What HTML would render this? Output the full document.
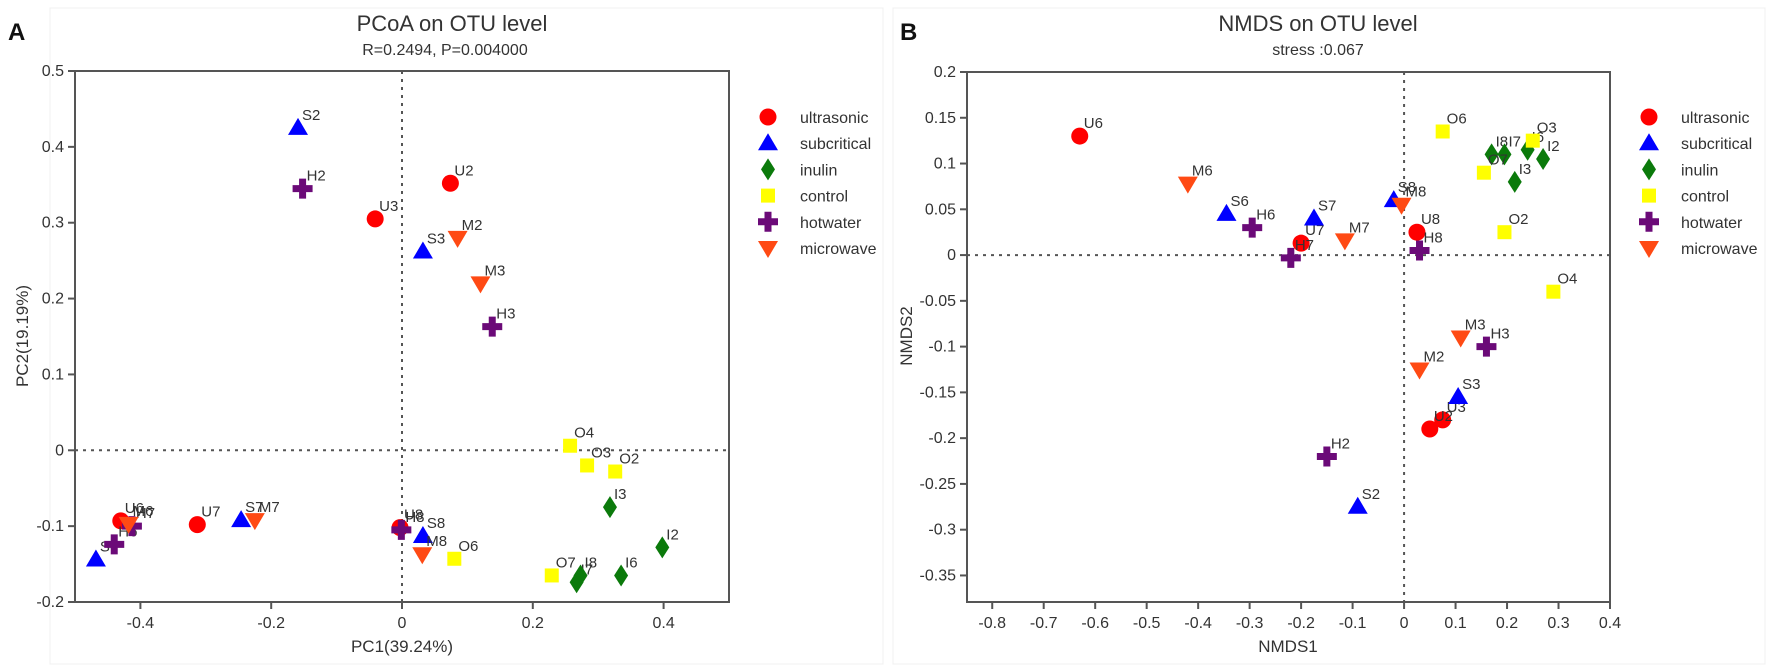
<!DOCTYPE html>
<html><head><meta charset="utf-8"><style>
html,body{margin:0;padding:0;background:#fff;}
svg{display:block;font-family:"Liberation Sans",Arial,sans-serif;}
</style></head><body>
<svg id="fig" width="1772" height="670" viewBox="0 0 1772 670">
<rect x="50" y="8" width="833" height="656" fill="none" stroke="#f0f0f0"/>
<rect x="893" y="8" width="872" height="656" fill="none" stroke="#f0f0f0"/>
<text x="8" y="40" font-size="24" font-weight="bold" fill="#111">A</text>
<text x="900" y="40" font-size="24" font-weight="bold" fill="#111">B</text>
<text x="452" y="31" font-size="22" text-anchor="middle" fill="#333">PCoA on OTU level</text>
<text x="445" y="55" font-size="16" text-anchor="middle" fill="#333">R=0.2494, P=0.004000</text>
<text x="1318" y="31" font-size="22" text-anchor="middle" fill="#333">NMDS on OTU level</text>
<text x="1318" y="55" font-size="16" text-anchor="middle" fill="#333">stress :0.067</text>
<text x="402" y="652" font-size="17" text-anchor="middle" fill="#333">PC1(39.24%)</text>
<text transform="translate(28,336) rotate(-90)" font-size="17" text-anchor="middle" fill="#333">PC2(19.19%)</text>
<text x="1288" y="652" font-size="17" text-anchor="middle" fill="#333">NMDS1</text>
<text transform="translate(912,336) rotate(-90)" font-size="17" text-anchor="middle" fill="#333">NMDS2</text>
<g id="gA"></g><g id="gB"></g>
</svg>
<script>
// ---- data: PCoA ----
const groups = ['ultrasonic','subcritical','inulin','control','hotwater','microwave'];
const pcoaLabels = [['U6','U7','U2','U3','U8'],['S2','S3','S6','S7','S8'],['I3','I2','I6','I7','I8'],['O4','O3','O2','O6','O7'],['H2','H3','H6','H7','H8'],['M2','M3','M6','M7','M8']];
const pcoaX = [[-0.43,-0.313,0.074,-0.041,-0.003],[-0.159,0.032,-0.468,-0.246,0.032],[0.318,0.398,0.335,0.267,0.273],[0.257,0.283,0.326,0.08,0.229],[-0.152,0.138,-0.44,-0.413,-0.001],[0.085,0.12,-0.418,-0.225,0.031]];
const pcoaY = [[-0.093,-0.098,0.352,0.305,-0.102],[0.425,0.262,-0.144,-0.092,-0.113],[-0.075,-0.128,-0.165,-0.174,-0.165],[0.006,-0.02,-0.028,-0.143,-0.165],[0.345,0.163,-0.124,-0.1,-0.105],[0.28,0.22,-0.097,-0.092,-0.137]];
const pcoaXTicks = [-0.4,-0.2,0,0.2,0.4];
const pcoaXTickLabels = ['-0.4','-0.2','0','0.2','0.4'];
const pcoaYTicks = [0.5,0.4,0.3,0.2,0.1,0,-0.1,-0.2];
const pcoaYTickLabels = ['0.5','0.4','0.3','0.2','0.1','0','-0.1','-0.2'];
// ---- data: NMDS ----
const nmdsLabels = [['U6','U7','U8','U3','U2'],['S6','S7','S8','S3','S2'],['I8','I7','I6','I2','I3'],['O6','O3','O7','O2','O4'],['H6','H7','H8','H3','H2'],['M6','M7','M8','M3','M2']];
const nmdsX = [[-0.63,-0.2,0.025,0.075,0.05],[-0.345,-0.175,-0.02,0.105,-0.09],[0.17,0.195,0.24,0.27,0.215],[0.075,0.25,0.155,0.195,0.29],[-0.295,-0.22,0.03,0.16,-0.15],[-0.42,-0.115,-0.005,0.11,0.03]];
const nmdsY = [[0.13,0.013,0.025,-0.18,-0.19],[0.045,0.04,0.06,-0.155,-0.275],[0.11,0.11,0.115,0.105,0.08],[0.135,0.125,0.09,0.025,-0.04],[0.03,-0.003,0.005,-0.1,-0.22],[0.078,0.016,0.055,-0.09,-0.125]];
const nmdsXTicks = [-0.8,-0.7,-0.6,-0.5,-0.4,-0.3,-0.2,-0.1,0,0.1,0.2,0.3,0.4];
const nmdsXTickLabels = ['-0.8','-0.7','-0.6','-0.5','-0.4','-0.3','-0.2','-0.1','0','0.1','0.2','0.3','0.4'];
const nmdsYTicks = [0.2,0.15,0.1,0.05,0,-0.05,-0.1,-0.15,-0.2,-0.25,-0.3,-0.35];
const nmdsYTickLabels = ['0.2','0.15','0.1','0.05','0','-0.05','-0.1','-0.15','-0.2','-0.25','-0.3','-0.35'];

const colors = ['#ff0000','#0000ff','#0b7a0b','#ffff00','#6b0a78','#ff4a14'];
const NS='http://www.w3.org/2000/svg';
function mk(tag,attrs,parent){const e=document.createElementNS(NS,tag);for(const k in attrs)e.setAttribute(k,attrs[k]);parent.appendChild(e);return e;}

function marker(g,gi,cx,cy,name){
  let e;
  if(gi===0){e=mk('circle',{cx:cx,cy:cy,r:8.5,fill:colors[0]},g);}
  else if(gi===1){e=mk('polygon',{points:`${cx},${cy-10} ${cx+10},${cy+7} ${cx-10},${cy+7}`,fill:colors[1]},g);}
  else if(gi===2){e=mk('polygon',{points:`${cx},${cy-11} ${cx+7},${cy} ${cx},${cy+11} ${cx-7},${cy}`,fill:colors[2]},g);}
  else if(gi===3){e=mk('rect',{x:cx-7,y:cy-7,width:14,height:14,fill:colors[3]},g);}
  else if(gi===4){e=mk('path',{d:`M${cx-3.5},${cy-10}h7v6.5h6.5v7h-6.5v6.5h-7v-6.5h-6.5v-7h6.5z`,fill:colors[4]},g);}
  else {e=mk('polygon',{points:`${cx-10},${cy-7} ${cx+10},${cy-7} ${cx},${cy+10}`,fill:colors[5]},g);}
  
  
  return e;
}

function panel(gid,cfg){
  const g=document.getElementById(gid);
  const sx=v=>cfg.x0+(v-cfg.xmin)/(cfg.xmax-cfg.xmin)*(cfg.x1-cfg.x0);
  const sy=v=>cfg.y0+(cfg.ymax-v)/(cfg.ymax-cfg.ymin)*(cfg.y1-cfg.y0);
  // zero lines
  let l=mk('line',{x1:sx(0),x2:sx(0),y1:cfg.y0,y2:cfg.y1,stroke:'#555','stroke-width':2,'stroke-dasharray':'3,5'},g);
  
  
  l=mk('line',{x1:cfg.x0,x2:cfg.x1,y1:sy(0),y2:sy(0),stroke:'#555','stroke-width':2,'stroke-dasharray':'3,5'},g);
  
  
  const fr=mk('rect',{x:cfg.x0,y:cfg.y0,width:cfg.x1-cfg.x0,height:cfg.y1-cfg.y0,fill:'none',stroke:'#555','stroke-width':2},g);
  
  
  cfg.xt.forEach((v,i)=>{
    const t=mk('line',{x1:sx(v),x2:sx(v),y1:cfg.y1,y2:cfg.y1+7,stroke:'#555','stroke-width':2},g);
    
    
    const tx=mk('text',{x:sx(v),y:cfg.y1+26,'font-size':16,'text-anchor':'middle',fill:'#333'},g);
    tx.textContent=cfg.xtl[i];
    
    
  });
  cfg.yt.forEach((v,i)=>{
    const t=mk('line',{x1:cfg.x0-7,x2:cfg.x0,y1:sy(v),y2:sy(v),stroke:'#555','stroke-width':2},g);
    
    
    const tx=mk('text',{x:cfg.x0-11,y:sy(v)+5,'font-size':16,'text-anchor':'end',fill:'#333'},g);
    tx.textContent=cfg.ytl[i];
    
    
  });
  cfg.X.forEach((arr,gi)=>arr.forEach((v,j)=>{
    const cx=sx(v),cy=sy(cfg.Y[gi][j]);
    marker(g,gi,cx,cy,'point-'+cfg.L[gi][j].toLowerCase());
    const tx=mk('text',{x:cx+4,y:cy-8,'font-size':15,fill:'#333'},g);
    tx.textContent=cfg.L[gi][j];
    
    
  }));
  groups.forEach((nm,gi)=>{
    const y=117+gi*26.2;
    marker(g,gi,cfg.lx,y,'legend-marker-'+nm);
    const tx=mk('text',{x:cfg.lx+32,y:y+6,'font-size':16,fill:'#333'},g);
    tx.textContent=nm;
    
    
  });
}
panel('gA',{x0:75,x1:729,y0:71,y1:602,xmin:-0.5,xmax:0.5,ymin:-0.2,ymax:0.5,xt:pcoaXTicks,xtl:pcoaXTickLabels,yt:pcoaYTicks,ytl:pcoaYTickLabels,X:pcoaX,Y:pcoaY,L:pcoaLabels,lx:768});
panel('gB',{x0:967,x1:1610,y0:72,y1:602,xmin:-0.849,xmax:0.4,ymin:-0.379,ymax:0.2,xt:nmdsXTicks,xtl:nmdsXTickLabels,yt:nmdsYTicks,ytl:nmdsYTickLabels,X:nmdsX,Y:nmdsY,L:nmdsLabels,lx:1649});
</script>
</body></html>
